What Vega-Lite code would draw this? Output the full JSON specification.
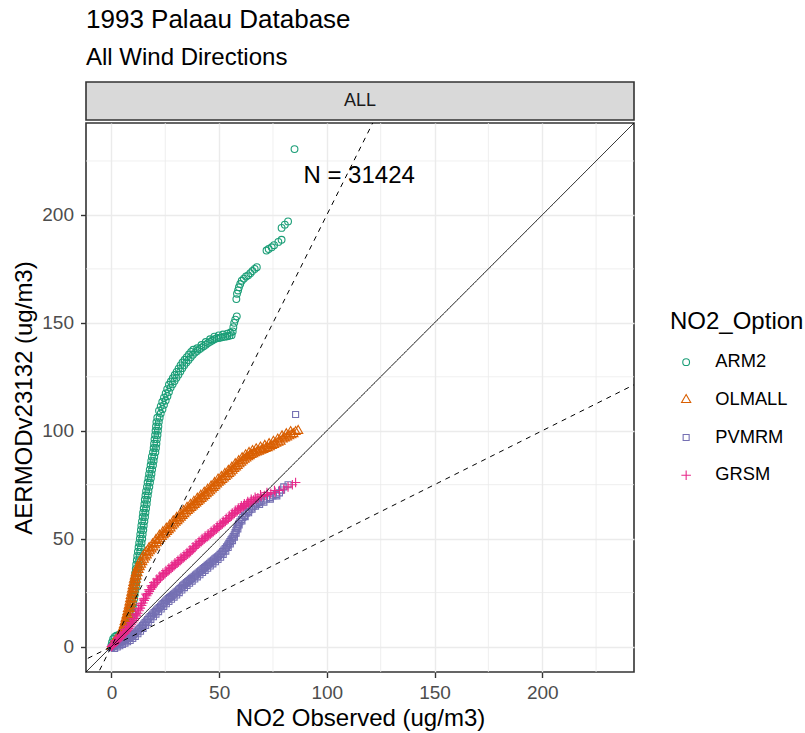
{
  "$schema": "https://vega.github.io/schema/vega-lite/v6.json",
  "background": "white",
  "padding": {"left": 11, "top": 7, "right": 0, "bottom": 0},
  "title": {"text": "1993 Palaau Database", "subtitle": "All Wind Directions", "anchor": "start", "frame": "group", "font": "Liberation Sans", "fontSize": 26, "fontWeight": "normal", "color": "#000000", "subtitleFont": "Liberation Sans", "subtitleFontSize": 24, "subtitleColor": "#000000", "subtitlePadding": 13, "offset": 11},
  "spacing": 0,
  "config": {
    "font": "Liberation Sans",
    "view": {"stroke": "#333333", "strokeWidth": 1.6},
    "axis": {"labelFont": "Liberation Sans", "labelFontSize": 19, "labelColor": "#4D4D4D", "titleFont": "Liberation Sans", "titleFontSize": 24, "titleFontWeight": "normal", "titleColor": "#000000", "tickColor": "#333333", "tickSize": 5.5, "tickWidth": 1.4, "domain": false, "gridColor": "#EBEBEB", "gridWidth": 1.4},
    "axisX": {"labelPadding": 6, "titlePadding": 4},
    "axisY": {"labelPadding": 7, "titlePadding": 5},
    "legend": {"titleFont": "Liberation Sans", "titleFontSize": 24, "titleFontWeight": "normal", "titleColor": "#000000", "labelFont": "Liberation Sans", "labelFontSize": 18.3, "labelColor": "#000000", "symbolSize": 46, "symbolStrokeWidth": 1.1, "rowPadding": 18.7, "titlePadding": 19, "labelOffset": 20, "symbolOffset": 7}
  },
  "datasets": {
    "qq": [
      {"Option":"ARM2","x":0,"y":0.5},{"Option":"ARM2","x":0.3,"y":2},{"Option":"ARM2","x":0.8,"y":3.5},{"Option":"ARM2","x":1.5,"y":4.5},{"Option":"ARM2","x":2.3,"y":5},{"Option":"ARM2","x":3.2,"y":5.3},{"Option":"ARM2","x":4,"y":5.7},{"Option":"ARM2","x":4.8,"y":6.2},{"Option":"ARM2","x":5.6,"y":7},{"Option":"ARM2","x":6.4,"y":8},{"Option":"ARM2","x":7.1,"y":9},{"Option":"ARM2","x":7.8,"y":10},{"Option":"ARM2","x":8.4,"y":11},
      {"Option":"ARM2","x":9,"y":12},{"Option":"ARM2","x":9.3,"y":14},{"Option":"ARM2","x":9.6,"y":16},{"Option":"ARM2","x":9.9,"y":18},{"Option":"ARM2","x":10.2,"y":20},{"Option":"ARM2","x":10.5,"y":22},{"Option":"ARM2","x":10.8,"y":24},{"Option":"ARM2","x":11.1,"y":26},{"Option":"ARM2","x":11.4,"y":28},
      {"Option":"ARM2","x":11.6,"y":30},{"Option":"ARM2","x":11.9,"y":32},{"Option":"ARM2","x":12.1,"y":34},{"Option":"ARM2","x":12.4,"y":36},{"Option":"ARM2","x":12.6,"y":38},{"Option":"ARM2","x":12.9,"y":40},{"Option":"ARM2","x":13.1,"y":42},{"Option":"ARM2","x":13.4,"y":44},
      {"Option":"ARM2","x":13.7,"y":46},{"Option":"ARM2","x":14,"y":48},{"Option":"ARM2","x":14.3,"y":50},{"Option":"ARM2","x":14.5,"y":52},{"Option":"ARM2","x":14.8,"y":54},{"Option":"ARM2","x":15,"y":56},{"Option":"ARM2","x":15.3,"y":58},{"Option":"ARM2","x":15.6,"y":60},{"Option":"ARM2","x":15.8,"y":62},{"Option":"ARM2","x":16.1,"y":64},{"Option":"ARM2","x":16.4,"y":66},{"Option":"ARM2","x":16.6,"y":68},{"Option":"ARM2","x":16.9,"y":70},
      {"Option":"ARM2","x":17.2,"y":72},{"Option":"ARM2","x":17.6,"y":74},{"Option":"ARM2","x":17.9,"y":76},{"Option":"ARM2","x":18.3,"y":78},{"Option":"ARM2","x":18.6,"y":80},{"Option":"ARM2","x":18.9,"y":82},{"Option":"ARM2","x":19.3,"y":84},{"Option":"ARM2","x":19.6,"y":86},{"Option":"ARM2","x":19.9,"y":88},{"Option":"ARM2","x":20.4,"y":90},
      {"Option":"ARM2","x":20.7,"y":92},{"Option":"ARM2","x":20.9,"y":94},{"Option":"ARM2","x":21.1,"y":96},{"Option":"ARM2","x":21.4,"y":98},{"Option":"ARM2","x":21.6,"y":100},{"Option":"ARM2","x":21.8,"y":102},{"Option":"ARM2","x":22,"y":104},{"Option":"ARM2","x":22.4,"y":106},
      {"Option":"ARM2","x":22.9,"y":108},{"Option":"ARM2","x":23.7,"y":110},{"Option":"ARM2","x":24.4,"y":112},{"Option":"ARM2","x":25.2,"y":114},{"Option":"ARM2","x":26,"y":116},{"Option":"ARM2","x":26.7,"y":118},{"Option":"ARM2","x":27.5,"y":120},{"Option":"ARM2","x":28.4,"y":121.5},
      {"Option":"ARM2","x":29.3,"y":123},{"Option":"ARM2","x":30.2,"y":124.5},{"Option":"ARM2","x":31.1,"y":126},{"Option":"ARM2","x":32,"y":127.5},{"Option":"ARM2","x":32.9,"y":129},
      {"Option":"ARM2","x":33.8,"y":130.3},{"Option":"ARM2","x":34.8,"y":131.6},{"Option":"ARM2","x":35.8,"y":132.8},{"Option":"ARM2","x":36.8,"y":134},{"Option":"ARM2","x":37.8,"y":135.2},{"Option":"ARM2","x":38.8,"y":136.2},
      {"Option":"ARM2","x":39.8,"y":137},{"Option":"ARM2","x":40.8,"y":137.8},{"Option":"ARM2","x":41.8,"y":138.5},{"Option":"ARM2","x":42.8,"y":139.2},{"Option":"ARM2","x":43.8,"y":139.9},{"Option":"ARM2","x":44.8,"y":140.6},{"Option":"ARM2","x":45.8,"y":141.2},{"Option":"ARM2","x":46.8,"y":141.8},{"Option":"ARM2","x":47.8,"y":142.4},
      {"Option":"ARM2","x":48.8,"y":142.8},{"Option":"ARM2","x":49.8,"y":143},{"Option":"ARM2","x":50.8,"y":143.2},{"Option":"ARM2","x":51.8,"y":143.4},{"Option":"ARM2","x":52.8,"y":143.6},{"Option":"ARM2","x":53.8,"y":143.8},{"Option":"ARM2","x":54.8,"y":144},{"Option":"ARM2","x":55.8,"y":144.3},
      {"Option":"ARM2","x":7.9,"y":12},{"Option":"ARM2","x":8.2,"y":14},{"Option":"ARM2","x":8.5,"y":16},{"Option":"ARM2","x":8.8,"y":18},{"Option":"ARM2","x":9.1,"y":20},{"Option":"ARM2","x":9.4,"y":22},{"Option":"ARM2","x":9.7,"y":24},{"Option":"ARM2","x":10,"y":26},{"Option":"ARM2","x":10.3,"y":28},{"Option":"ARM2","x":10.5,"y":30},{"Option":"ARM2","x":10.8,"y":32},{"Option":"ARM2","x":11,"y":34},{"Option":"ARM2","x":11.3,"y":36},{"Option":"ARM2","x":11.5,"y":38},{"Option":"ARM2","x":11.8,"y":40},{"Option":"ARM2","x":12,"y":42},{"Option":"ARM2","x":12.3,"y":44},{"Option":"ARM2","x":12.6,"y":46},{"Option":"ARM2","x":12.9,"y":48},{"Option":"ARM2","x":13.2,"y":50},{"Option":"ARM2","x":13.4,"y":52},{"Option":"ARM2","x":13.7,"y":54},{"Option":"ARM2","x":13.9,"y":56},{"Option":"ARM2","x":14.2,"y":58},{"Option":"ARM2","x":14.5,"y":60},{"Option":"ARM2","x":14.7,"y":62},{"Option":"ARM2","x":15,"y":64},{"Option":"ARM2","x":15.3,"y":66},{"Option":"ARM2","x":15.5,"y":68},{"Option":"ARM2","x":15.8,"y":70},{"Option":"ARM2","x":16.1,"y":72},{"Option":"ARM2","x":16.5,"y":74},{"Option":"ARM2","x":16.8,"y":76},{"Option":"ARM2","x":17.2,"y":78},{"Option":"ARM2","x":17.5,"y":80},{"Option":"ARM2","x":17.8,"y":82},{"Option":"ARM2","x":18.2,"y":84},{"Option":"ARM2","x":18.5,"y":86},{"Option":"ARM2","x":18.8,"y":88},{"Option":"ARM2","x":19.3,"y":90},{"Option":"ARM2","x":19.6,"y":92},{"Option":"ARM2","x":19.8,"y":94},{"Option":"ARM2","x":20,"y":96},{"Option":"ARM2","x":20.3,"y":98},{"Option":"ARM2","x":20.5,"y":100},{"Option":"ARM2","x":20.7,"y":102},{"Option":"ARM2","x":20.9,"y":104},{"Option":"ARM2","x":21.3,"y":106},
      {"Option":"ARM2","x":22.1,"y":109.3},{"Option":"ARM2","x":22.9,"y":111.3},{"Option":"ARM2","x":23.6,"y":113.3},{"Option":"ARM2","x":24.4,"y":115.3},{"Option":"ARM2","x":25.2,"y":117.3},{"Option":"ARM2","x":25.9,"y":119.3},{"Option":"ARM2","x":26.7,"y":121.3},{"Option":"ARM2","x":27.6,"y":122.8},{"Option":"ARM2","x":28.5,"y":124.3},{"Option":"ARM2","x":29.4,"y":125.8},{"Option":"ARM2","x":30.3,"y":127.3},{"Option":"ARM2","x":31.2,"y":128.8},{"Option":"ARM2","x":32.1,"y":130.3},{"Option":"ARM2","x":33,"y":131.6},{"Option":"ARM2","x":34,"y":132.9},{"Option":"ARM2","x":35,"y":134.1},{"Option":"ARM2","x":36,"y":135.3},{"Option":"ARM2","x":37,"y":136.5},{"Option":"ARM2","x":38,"y":137.5},
      {"Option":"ARM2","x":39.8,"y":138.2},{"Option":"ARM2","x":41.8,"y":139.7},{"Option":"ARM2","x":43.8,"y":141.1},{"Option":"ARM2","x":45.8,"y":142.4},{"Option":"ARM2","x":47.8,"y":143.6},{"Option":"ARM2","x":49.8,"y":144.2},{"Option":"ARM2","x":51.8,"y":144.6},{"Option":"ARM2","x":53.8,"y":145},{"Option":"ARM2","x":55.3,"y":145.5},
      {"Option":"ARM2","x":56.3,"y":146},{"Option":"ARM2","x":56.6,"y":148},{"Option":"ARM2","x":57,"y":150},{"Option":"ARM2","x":57.5,"y":151.5},{"Option":"ARM2","x":58.2,"y":153},
      {"Option":"ARM2","x":58,"y":161},{"Option":"ARM2","x":58.3,"y":163.5},{"Option":"ARM2","x":58.8,"y":165},{"Option":"ARM2","x":59.2,"y":166.5},{"Option":"ARM2","x":59.8,"y":168},{"Option":"ARM2","x":60.5,"y":169.5},{"Option":"ARM2","x":61.5,"y":170.5},{"Option":"ARM2","x":62.5,"y":171.5},{"Option":"ARM2","x":63.5,"y":172},{"Option":"ARM2","x":64.5,"y":173},{"Option":"ARM2","x":65.5,"y":174},{"Option":"ARM2","x":66.5,"y":175},{"Option":"ARM2","x":67.5,"y":175.8},
      {"Option":"ARM2","x":72,"y":183.5},{"Option":"ARM2","x":73,"y":184.2},{"Option":"ARM2","x":74.4,"y":185},{"Option":"ARM2","x":75.5,"y":186},{"Option":"ARM2","x":77.5,"y":187.5},{"Option":"ARM2","x":79,"y":188.5},{"Option":"ARM2","x":79,"y":194},{"Option":"ARM2","x":80.5,"y":195.5},{"Option":"ARM2","x":82,"y":197},{"Option":"ARM2","x":85,"y":230.5},

      {"Option":"OLMALL","x":0,"y":0},{"Option":"OLMALL","x":0.5,"y":0.8},{"Option":"OLMALL","x":1,"y":1.5},{"Option":"OLMALL","x":1.5,"y":2.2},{"Option":"OLMALL","x":2,"y":2.8},{"Option":"OLMALL","x":2.7,"y":3.3},{"Option":"OLMALL","x":3.4,"y":3.8},{"Option":"OLMALL","x":4.1,"y":4.4},{"Option":"OLMALL","x":4.6,"y":5},
      {"Option":"OLMALL","x":5,"y":5.5},{"Option":"OLMALL","x":5.6,"y":7},{"Option":"OLMALL","x":6.1,"y":8.5},{"Option":"OLMALL","x":6.6,"y":10},{"Option":"OLMALL","x":7,"y":11.5},{"Option":"OLMALL","x":7.4,"y":13},{"Option":"OLMALL","x":7.8,"y":14.5},{"Option":"OLMALL","x":8.2,"y":16},{"Option":"OLMALL","x":8.5,"y":17.5},{"Option":"OLMALL","x":8.9,"y":19},{"Option":"OLMALL","x":9.2,"y":20.5},{"Option":"OLMALL","x":9.5,"y":22},{"Option":"OLMALL","x":9.8,"y":23.5},{"Option":"OLMALL","x":10.1,"y":25},{"Option":"OLMALL","x":10.4,"y":26.5},{"Option":"OLMALL","x":10.7,"y":28},{"Option":"OLMALL","x":11,"y":29.5},{"Option":"OLMALL","x":11.3,"y":31},{"Option":"OLMALL","x":11.7,"y":32.5},{"Option":"OLMALL","x":12.1,"y":34},{"Option":"OLMALL","x":12.6,"y":35.5},{"Option":"OLMALL","x":13.1,"y":36.8},{"Option":"OLMALL","x":13.7,"y":38},{"Option":"OLMALL","x":14.3,"y":39.2},{"Option":"OLMALL","x":15,"y":40.3},{"Option":"OLMALL","x":15.7,"y":41.3},{"Option":"OLMALL","x":16.4,"y":42.3},{"Option":"OLMALL","x":17.1,"y":43.3},{"Option":"OLMALL","x":17.8,"y":44.2},{"Option":"OLMALL","x":18.6,"y":45.1},{"Option":"OLMALL","x":19.4,"y":46},{"Option":"OLMALL","x":20.2,"y":47},{"Option":"OLMALL","x":21,"y":48},{"Option":"OLMALL","x":21.8,"y":49},{"Option":"OLMALL","x":22.6,"y":50},{"Option":"OLMALL","x":23.4,"y":50.8},{"Option":"OLMALL","x":24.2,"y":51.6},{"Option":"OLMALL","x":25,"y":52.4},{"Option":"OLMALL","x":25.8,"y":53.2},{"Option":"OLMALL","x":26.6,"y":54},{"Option":"OLMALL","x":27.4,"y":54.8},{"Option":"OLMALL","x":28.2,"y":55.8},{"Option":"OLMALL","x":29,"y":56.6},{"Option":"OLMALL","x":29.8,"y":57.4},{"Option":"OLMALL","x":30.6,"y":58.2},{"Option":"OLMALL","x":31.4,"y":59},{"Option":"OLMALL","x":32.2,"y":59.8},{"Option":"OLMALL","x":33,"y":60.6},{"Option":"OLMALL","x":33.8,"y":61.4},{"Option":"OLMALL","x":34.6,"y":62.2},{"Option":"OLMALL","x":35.4,"y":62.9},{"Option":"OLMALL","x":36.2,"y":63.6},{"Option":"OLMALL","x":37,"y":64.3},{"Option":"OLMALL","x":37.8,"y":65},{"Option":"OLMALL","x":38.6,"y":65.7},{"Option":"OLMALL","x":39.4,"y":66.4},{"Option":"OLMALL","x":40.2,"y":67.1},{"Option":"OLMALL","x":41,"y":67.8},{"Option":"OLMALL","x":41.8,"y":68.5},{"Option":"OLMALL","x":42.6,"y":69.2},{"Option":"OLMALL","x":43.4,"y":69.9},{"Option":"OLMALL","x":44.2,"y":70.6},{"Option":"OLMALL","x":45,"y":71.3},{"Option":"OLMALL","x":45.8,"y":72},{"Option":"OLMALL","x":46.6,"y":72.8},{"Option":"OLMALL","x":47.4,"y":73.6},{"Option":"OLMALL","x":48.2,"y":74.4},{"Option":"OLMALL","x":49,"y":75.2},{"Option":"OLMALL","x":49.8,"y":76},{"Option":"OLMALL","x":50.6,"y":76.6},{"Option":"OLMALL","x":51.4,"y":77.2},{"Option":"OLMALL","x":52.2,"y":77.9},{"Option":"OLMALL","x":53,"y":78.6},{"Option":"OLMALL","x":53.8,"y":79.3},{"Option":"OLMALL","x":54.6,"y":80},{"Option":"OLMALL","x":55.4,"y":80.7},{"Option":"OLMALL","x":56.2,"y":81.5},{"Option":"OLMALL","x":57,"y":82.3},{"Option":"OLMALL","x":57.8,"y":83.1},{"Option":"OLMALL","x":58.6,"y":83.8},{"Option":"OLMALL","x":59.4,"y":84.5},{"Option":"OLMALL","x":60.2,"y":85.2},{"Option":"OLMALL","x":61,"y":85.9},{"Option":"OLMALL","x":61.8,"y":86.6},{"Option":"OLMALL","x":62.6,"y":87.2},{"Option":"OLMALL","x":63.4,"y":87.8},{"Option":"OLMALL","x":64.2,"y":88.3},{"Option":"OLMALL","x":65,"y":88.8},{"Option":"OLMALL","x":65.8,"y":89.2},{"Option":"OLMALL","x":66.6,"y":89.6},{"Option":"OLMALL","x":67.5,"y":90},{"Option":"OLMALL","x":68.5,"y":90.4},{"Option":"OLMALL","x":69.5,"y":90.8},{"Option":"OLMALL","x":70.5,"y":91.2},{"Option":"OLMALL","x":71.5,"y":91.6},{"Option":"OLMALL","x":72.5,"y":92},{"Option":"OLMALL","x":73.5,"y":92.4},{"Option":"OLMALL","x":74.5,"y":93},{"Option":"OLMALL","x":75.5,"y":93.5},{"Option":"OLMALL","x":76.5,"y":94},{"Option":"OLMALL","x":77.5,"y":94.5},{"Option":"OLMALL","x":78.5,"y":95},{"Option":"OLMALL","x":79.5,"y":96},{"Option":"OLMALL","x":80.5,"y":96.5},{"Option":"OLMALL","x":81.5,"y":97},{"Option":"OLMALL","x":82.5,"y":97.5},{"Option":"OLMALL","x":83.5,"y":98},{"Option":"OLMALL","x":84.5,"y":98.5},{"Option":"OLMALL","x":85.5,"y":99.5},{"Option":"OLMALL","x":86.7,"y":100},
      {"Option":"OLMALL","x":4.6,"y":7},{"Option":"OLMALL","x":5.3,"y":8.5},{"Option":"OLMALL","x":5.8,"y":10},{"Option":"OLMALL","x":6.2,"y":11.5},{"Option":"OLMALL","x":6.6,"y":13},{"Option":"OLMALL","x":7,"y":14.5},{"Option":"OLMALL","x":7.4,"y":16},{"Option":"OLMALL","x":7.7,"y":17.5},{"Option":"OLMALL","x":8.1,"y":19},{"Option":"OLMALL","x":8.4,"y":20.5},{"Option":"OLMALL","x":8.7,"y":22},{"Option":"OLMALL","x":9,"y":23.5},{"Option":"OLMALL","x":9.3,"y":25},{"Option":"OLMALL","x":9.6,"y":26.5},{"Option":"OLMALL","x":9.9,"y":28},{"Option":"OLMALL","x":10.2,"y":29.5},{"Option":"OLMALL","x":10.5,"y":31},{"Option":"OLMALL","x":10.9,"y":32.5},{"Option":"OLMALL","x":11.3,"y":34},{"Option":"OLMALL","x":11.8,"y":35.5},
      {"Option":"OLMALL","x":12.3,"y":37},{"Option":"OLMALL","x":13.4,"y":39.5},{"Option":"OLMALL","x":14.7,"y":41.8},{"Option":"OLMALL","x":16.1,"y":43.8},{"Option":"OLMALL","x":17.5,"y":45.7},{"Option":"OLMALL","x":19.1,"y":47.5},{"Option":"OLMALL","x":20.7,"y":49.5},{"Option":"OLMALL","x":22.3,"y":51.5},{"Option":"OLMALL","x":23.9,"y":53.1},{"Option":"OLMALL","x":25.5,"y":54.7},{"Option":"OLMALL","x":27.1,"y":56.3},{"Option":"OLMALL","x":28.7,"y":58.1},{"Option":"OLMALL","x":30.3,"y":59.7},{"Option":"OLMALL","x":31.9,"y":61.3},{"Option":"OLMALL","x":33.5,"y":62.9},{"Option":"OLMALL","x":35.1,"y":64.4},{"Option":"OLMALL","x":36.7,"y":65.8},{"Option":"OLMALL","x":38.3,"y":67.2},{"Option":"OLMALL","x":39.9,"y":68.6},{"Option":"OLMALL","x":41.5,"y":70},{"Option":"OLMALL","x":43.1,"y":71.4},{"Option":"OLMALL","x":44.7,"y":72.8},{"Option":"OLMALL","x":46.3,"y":74.3},{"Option":"OLMALL","x":47.9,"y":75.9},{"Option":"OLMALL","x":49.5,"y":77.5},{"Option":"OLMALL","x":51.1,"y":78.7},{"Option":"OLMALL","x":52.7,"y":80.1},{"Option":"OLMALL","x":54.3,"y":81.5},{"Option":"OLMALL","x":55.9,"y":83},{"Option":"OLMALL","x":57.5,"y":84.6},{"Option":"OLMALL","x":59.1,"y":86},{"Option":"OLMALL","x":60.7,"y":87.4},{"Option":"OLMALL","x":62.3,"y":88.7},{"Option":"OLMALL","x":63.9,"y":89.8},{"Option":"OLMALL","x":65.5,"y":90.7},{"Option":"OLMALL","x":67.2,"y":91.5},{"Option":"OLMALL","x":69.2,"y":92.3},{"Option":"OLMALL","x":71.2,"y":93.1},{"Option":"OLMALL","x":73.2,"y":93.9},{"Option":"OLMALL","x":75.2,"y":95},{"Option":"OLMALL","x":77.2,"y":96},{"Option":"OLMALL","x":79.2,"y":97.5},{"Option":"OLMALL","x":81.2,"y":98.5},{"Option":"OLMALL","x":83.2,"y":99.5},

      {"Option":"PVMRM","x":0,"y":-0.5},{"Option":"PVMRM","x":0.6,"y":0},{"Option":"PVMRM","x":1.2,"y":0.4},{"Option":"PVMRM","x":1.8,"y":0.8},{"Option":"PVMRM","x":2.4,"y":1.1},{"Option":"PVMRM","x":3,"y":1.4},{"Option":"PVMRM","x":3.6,"y":1.7},{"Option":"PVMRM","x":4.2,"y":2},{"Option":"PVMRM","x":4.8,"y":2.3},{"Option":"PVMRM","x":5.4,"y":2.6},{"Option":"PVMRM","x":6,"y":2.9},{"Option":"PVMRM","x":6.6,"y":3.2},{"Option":"PVMRM","x":7.2,"y":3.5},{"Option":"PVMRM","x":7.8,"y":3.8},{"Option":"PVMRM","x":8.4,"y":4.1},{"Option":"PVMRM","x":9,"y":4.5},{"Option":"PVMRM","x":9.6,"y":5},{"Option":"PVMRM","x":10.2,"y":5.5},{"Option":"PVMRM","x":10.8,"y":6},{"Option":"PVMRM","x":11.4,"y":6.6},{"Option":"PVMRM","x":12,"y":7.2},{"Option":"PVMRM","x":12.6,"y":7.8},{"Option":"PVMRM","x":13.2,"y":8.4},{"Option":"PVMRM","x":13.8,"y":9},{"Option":"PVMRM","x":14.4,"y":9.7},{"Option":"PVMRM","x":15,"y":10.4},{"Option":"PVMRM","x":15.6,"y":11.1},{"Option":"PVMRM","x":16.2,"y":11.8},{"Option":"PVMRM","x":16.8,"y":12.5},{"Option":"PVMRM","x":17.4,"y":13.2},{"Option":"PVMRM","x":18,"y":13.9},{"Option":"PVMRM","x":18.6,"y":14.5},{"Option":"PVMRM","x":19.2,"y":15.1},{"Option":"PVMRM","x":19.8,"y":15.7},{"Option":"PVMRM","x":20.4,"y":16.3},{"Option":"PVMRM","x":21,"y":16.9},{"Option":"PVMRM","x":21.6,"y":17.5},{"Option":"PVMRM","x":22.2,"y":18.1},{"Option":"PVMRM","x":22.8,"y":18.7},{"Option":"PVMRM","x":23.4,"y":19.3},{"Option":"PVMRM","x":24,"y":19.9},{"Option":"PVMRM","x":24.6,"y":20.5},{"Option":"PVMRM","x":25.2,"y":21.1},{"Option":"PVMRM","x":25.8,"y":21.7},{"Option":"PVMRM","x":26.4,"y":22.2},{"Option":"PVMRM","x":27,"y":22.7},{"Option":"PVMRM","x":27.6,"y":23.2},{"Option":"PVMRM","x":28.2,"y":23.7},{"Option":"PVMRM","x":28.8,"y":24.2},{"Option":"PVMRM","x":29.4,"y":24.7},{"Option":"PVMRM","x":30,"y":25.2},{"Option":"PVMRM","x":30.6,"y":25.7},{"Option":"PVMRM","x":31.2,"y":26.3},{"Option":"PVMRM","x":31.8,"y":26.9},{"Option":"PVMRM","x":32.4,"y":27.5},{"Option":"PVMRM","x":33,"y":28.1},{"Option":"PVMRM","x":33.6,"y":28.6},{"Option":"PVMRM","x":34.2,"y":29.1},{"Option":"PVMRM","x":34.8,"y":29.6},{"Option":"PVMRM","x":35.4,"y":30.1},{"Option":"PVMRM","x":36,"y":30.6},{"Option":"PVMRM","x":36.6,"y":31.1},{"Option":"PVMRM","x":37.2,"y":31.6},{"Option":"PVMRM","x":37.8,"y":32.1},{"Option":"PVMRM","x":38.4,"y":32.6},{"Option":"PVMRM","x":39,"y":33.1},{"Option":"PVMRM","x":39.6,"y":33.6},{"Option":"PVMRM","x":40.2,"y":34.1},{"Option":"PVMRM","x":40.8,"y":34.6},{"Option":"PVMRM","x":41.4,"y":35.1},{"Option":"PVMRM","x":42,"y":35.6},{"Option":"PVMRM","x":42.6,"y":36.1},{"Option":"PVMRM","x":43.2,"y":36.6},{"Option":"PVMRM","x":43.8,"y":37.1},{"Option":"PVMRM","x":44.4,"y":37.6},{"Option":"PVMRM","x":45,"y":38.1},{"Option":"PVMRM","x":45.6,"y":38.6},{"Option":"PVMRM","x":46.2,"y":39.1},{"Option":"PVMRM","x":46.8,"y":39.6},{"Option":"PVMRM","x":47.4,"y":40.1},{"Option":"PVMRM","x":48,"y":40.6},{"Option":"PVMRM","x":48.6,"y":41.1},{"Option":"PVMRM","x":49.2,"y":41.6},{"Option":"PVMRM","x":49.8,"y":42.1},{"Option":"PVMRM","x":50.4,"y":42.7},{"Option":"PVMRM","x":51,"y":43.3},{"Option":"PVMRM","x":51.6,"y":44},{"Option":"PVMRM","x":52.2,"y":44.7},{"Option":"PVMRM","x":52.8,"y":45.4},{"Option":"PVMRM","x":53.4,"y":46.2},{"Option":"PVMRM","x":54,"y":47},{"Option":"PVMRM","x":54.5,"y":47.8},{"Option":"PVMRM","x":55,"y":48.6},{"Option":"PVMRM","x":55.5,"y":49.4},{"Option":"PVMRM","x":56,"y":50.2},{"Option":"PVMRM","x":56.5,"y":51},{"Option":"PVMRM","x":57,"y":51.8},{"Option":"PVMRM","x":57.4,"y":52.8},{"Option":"PVMRM","x":57.8,"y":53.8},{"Option":"PVMRM","x":58.2,"y":54.8},{"Option":"PVMRM","x":58.6,"y":55.8},{"Option":"PVMRM","x":59,"y":56.8},{"Option":"PVMRM","x":59.6,"y":57.8},{"Option":"PVMRM","x":60.3,"y":58.8},{"Option":"PVMRM","x":61,"y":59.8},{"Option":"PVMRM","x":61.8,"y":60.8},{"Option":"PVMRM","x":62.6,"y":61.8},{"Option":"PVMRM","x":63.4,"y":62.6},{"Option":"PVMRM","x":64.2,"y":63.4},{"Option":"PVMRM","x":65,"y":64.2},{"Option":"PVMRM","x":65.8,"y":65},{"Option":"PVMRM","x":66.6,"y":65.6},{"Option":"PVMRM","x":67.5,"y":66.2},{"Option":"PVMRM","x":68.5,"y":66.8},{"Option":"PVMRM","x":69.5,"y":67.3},{"Option":"PVMRM","x":70.5,"y":67.8},{"Option":"PVMRM","x":72,"y":68.4},{"Option":"PVMRM","x":73.5,"y":69},{"Option":"PVMRM","x":75,"y":69.8},{"Option":"PVMRM","x":76.5,"y":70.5},{"Option":"PVMRM","x":78,"y":71.2},{"Option":"PVMRM","x":79,"y":72.5},{"Option":"PVMRM","x":80,"y":74},{"Option":"PVMRM","x":82,"y":75},{"Option":"PVMRM","x":85.5,"y":107.5},
      {"Option":"PVMRM","x":1.5,"y":-0.9},{"Option":"PVMRM","x":2.7,"y":-0.2},{"Option":"PVMRM","x":3.9,"y":0.4},{"Option":"PVMRM","x":5.1,"y":1},{"Option":"PVMRM","x":6.3,"y":1.6},{"Option":"PVMRM","x":7.5,"y":2.2},{"Option":"PVMRM","x":8.7,"y":2.8},{"Option":"PVMRM","x":9.9,"y":3.7},{"Option":"PVMRM","x":11.1,"y":4.7},{"Option":"PVMRM","x":12.3,"y":5.9},{"Option":"PVMRM","x":13.5,"y":7.1},{"Option":"PVMRM","x":14.7,"y":8.4},{"Option":"PVMRM","x":15.9,"y":9.8},{"Option":"PVMRM","x":17.1,"y":11.2},{"Option":"PVMRM","x":18.3,"y":12.6},{"Option":"PVMRM","x":19.5,"y":13.8},{"Option":"PVMRM","x":20.7,"y":15},{"Option":"PVMRM","x":21.9,"y":16.2},{"Option":"PVMRM","x":23.1,"y":17.4},{"Option":"PVMRM","x":24.3,"y":18.6},{"Option":"PVMRM","x":25.5,"y":19.8},{"Option":"PVMRM","x":26.7,"y":20.9},{"Option":"PVMRM","x":27.9,"y":21.9},{"Option":"PVMRM","x":29.1,"y":22.9},{"Option":"PVMRM","x":30.3,"y":23.9},{"Option":"PVMRM","x":31.5,"y":25},{"Option":"PVMRM","x":32.7,"y":26.2},{"Option":"PVMRM","x":33.9,"y":27.3},{"Option":"PVMRM","x":35.1,"y":28.3},{"Option":"PVMRM","x":36.3,"y":29.3},{"Option":"PVMRM","x":37.5,"y":30.3},{"Option":"PVMRM","x":38.7,"y":31.3},{"Option":"PVMRM","x":39.9,"y":32.3},{"Option":"PVMRM","x":41.1,"y":33.3},{"Option":"PVMRM","x":42.3,"y":34.3},{"Option":"PVMRM","x":43.5,"y":35.3},{"Option":"PVMRM","x":44.7,"y":36.3},{"Option":"PVMRM","x":45.9,"y":37.3},{"Option":"PVMRM","x":47.1,"y":38.3},{"Option":"PVMRM","x":48.3,"y":39.3},{"Option":"PVMRM","x":49.5,"y":40.3},{"Option":"PVMRM","x":50.7,"y":41.4},{"Option":"PVMRM","x":51.9,"y":42.7},{"Option":"PVMRM","x":53.1,"y":44.2},{"Option":"PVMRM","x":54.2,"y":45.9},{"Option":"PVMRM","x":55.2,"y":47.5},{"Option":"PVMRM","x":56.2,"y":49.1},{"Option":"PVMRM","x":57.1,"y":50.7},{"Option":"PVMRM","x":57.9,"y":52.5},{"Option":"PVMRM","x":58.7,"y":54.5},{"Option":"PVMRM","x":59.3,"y":56.3},{"Option":"PVMRM","x":60.6,"y":58.2},{"Option":"PVMRM","x":62.1,"y":60.2},{"Option":"PVMRM","x":63.7,"y":62},{"Option":"PVMRM","x":65.3,"y":63.6},{"Option":"PVMRM","x":66.9,"y":65},{"Option":"PVMRM","x":68.8,"y":65.9},{"Option":"PVMRM","x":70.8,"y":66.9},{"Option":"PVMRM","x":73.8,"y":68.3},{"Option":"PVMRM","x":76.8,"y":69.8},

      {"Option":"GRSM","x":0,"y":0},{"Option":"GRSM","x":0.5,"y":0.5},{"Option":"GRSM","x":1,"y":1},{"Option":"GRSM","x":1.5,"y":1.5},{"Option":"GRSM","x":2,"y":2},{"Option":"GRSM","x":2.6,"y":2.6},{"Option":"GRSM","x":3.2,"y":3.2},{"Option":"GRSM","x":3.8,"y":3.8},{"Option":"GRSM","x":4.4,"y":4.4},{"Option":"GRSM","x":5,"y":5},{"Option":"GRSM","x":5.6,"y":5.6},{"Option":"GRSM","x":6.2,"y":6.2},{"Option":"GRSM","x":6.8,"y":6.9},{"Option":"GRSM","x":7.4,"y":7.6},{"Option":"GRSM","x":8,"y":8.3},{"Option":"GRSM","x":8.6,"y":9.2},{"Option":"GRSM","x":9.2,"y":10.1},{"Option":"GRSM","x":9.8,"y":11},{"Option":"GRSM","x":10.4,"y":12},{"Option":"GRSM","x":11,"y":13},{"Option":"GRSM","x":11.6,"y":14.2},{"Option":"GRSM","x":12.2,"y":15.4},{"Option":"GRSM","x":12.8,"y":16.6},{"Option":"GRSM","x":13.4,"y":17.8},{"Option":"GRSM","x":14,"y":19},{"Option":"GRSM","x":14.6,"y":20.2},{"Option":"GRSM","x":15.2,"y":21.3},{"Option":"GRSM","x":15.8,"y":22.4},{"Option":"GRSM","x":16.4,"y":23.5},{"Option":"GRSM","x":17,"y":24.5},{"Option":"GRSM","x":17.6,"y":25.5},{"Option":"GRSM","x":18.2,"y":26.4},{"Option":"GRSM","x":18.8,"y":27.3},{"Option":"GRSM","x":19.4,"y":28.1},{"Option":"GRSM","x":20,"y":28.9},{"Option":"GRSM","x":20.7,"y":29.7},{"Option":"GRSM","x":21.4,"y":30.5},{"Option":"GRSM","x":22.1,"y":31.2},{"Option":"GRSM","x":22.8,"y":31.9},{"Option":"GRSM","x":23.5,"y":32.6},{"Option":"GRSM","x":24.2,"y":33.2},{"Option":"GRSM","x":24.9,"y":33.8},{"Option":"GRSM","x":25.6,"y":34.4},{"Option":"GRSM","x":26.3,"y":35},{"Option":"GRSM","x":27,"y":35.6},{"Option":"GRSM","x":27.7,"y":36.2},{"Option":"GRSM","x":28.4,"y":36.8},{"Option":"GRSM","x":29.1,"y":37.4},{"Option":"GRSM","x":29.8,"y":38},{"Option":"GRSM","x":30.5,"y":38.6},{"Option":"GRSM","x":31.2,"y":39.2},{"Option":"GRSM","x":31.9,"y":39.8},{"Option":"GRSM","x":32.6,"y":40.4},{"Option":"GRSM","x":33.3,"y":41},{"Option":"GRSM","x":34,"y":41.6},{"Option":"GRSM","x":34.7,"y":42.2},{"Option":"GRSM","x":35.4,"y":42.8},{"Option":"GRSM","x":36.1,"y":43.4},{"Option":"GRSM","x":36.8,"y":44},{"Option":"GRSM","x":37.5,"y":44.7},{"Option":"GRSM","x":38.2,"y":45.4},{"Option":"GRSM","x":38.9,"y":46.1},{"Option":"GRSM","x":39.6,"y":46.8},{"Option":"GRSM","x":40.3,"y":47.4},{"Option":"GRSM","x":41,"y":48},{"Option":"GRSM","x":41.7,"y":48.6},{"Option":"GRSM","x":42.4,"y":49.2},{"Option":"GRSM","x":43.1,"y":49.8},{"Option":"GRSM","x":43.8,"y":50.4},{"Option":"GRSM","x":44.5,"y":50.9},{"Option":"GRSM","x":45.2,"y":51.4},{"Option":"GRSM","x":45.9,"y":52},{"Option":"GRSM","x":46.6,"y":52.6},{"Option":"GRSM","x":47.3,"y":53.2},{"Option":"GRSM","x":48,"y":53.8},{"Option":"GRSM","x":48.7,"y":54.4},{"Option":"GRSM","x":49.4,"y":55},{"Option":"GRSM","x":50.1,"y":55.6},{"Option":"GRSM","x":50.8,"y":56.2},{"Option":"GRSM","x":51.5,"y":56.8},{"Option":"GRSM","x":52.2,"y":57.4},{"Option":"GRSM","x":52.9,"y":58},{"Option":"GRSM","x":53.6,"y":58.6},{"Option":"GRSM","x":54.3,"y":59.2},{"Option":"GRSM","x":55,"y":59.9},{"Option":"GRSM","x":55.7,"y":60.5},{"Option":"GRSM","x":56.4,"y":61.1},{"Option":"GRSM","x":57.1,"y":61.7},{"Option":"GRSM","x":57.8,"y":62.3},{"Option":"GRSM","x":58.5,"y":62.9},{"Option":"GRSM","x":59.2,"y":63.4},{"Option":"GRSM","x":59.9,"y":63.9},{"Option":"GRSM","x":60.6,"y":64.4},{"Option":"GRSM","x":61.3,"y":64.9},{"Option":"GRSM","x":62,"y":65.4},{"Option":"GRSM","x":62.8,"y":65.9},{"Option":"GRSM","x":63.6,"y":66.4},{"Option":"GRSM","x":64.4,"y":66.9},{"Option":"GRSM","x":65.2,"y":67.4},{"Option":"GRSM","x":66,"y":67.9},{"Option":"GRSM","x":67,"y":68.4},{"Option":"GRSM","x":68,"y":68.9},{"Option":"GRSM","x":69.5,"y":69.5},{"Option":"GRSM","x":71,"y":70},{"Option":"GRSM","x":72.5,"y":70.5},{"Option":"GRSM","x":74,"y":71},{"Option":"GRSM","x":76,"y":71.5},{"Option":"GRSM","x":78,"y":72.3},{"Option":"GRSM","x":80,"y":73},{"Option":"GRSM","x":82,"y":74},{"Option":"GRSM","x":84,"y":75},{"Option":"GRSM","x":85.5,"y":76},
      {"Option":"GRSM","x":1.7,"y":2.8},{"Option":"GRSM","x":2.9,"y":4.2},{"Option":"GRSM","x":4.1,"y":5.4},{"Option":"GRSM","x":5.3,"y":6.6},{"Option":"GRSM","x":6.5,"y":7.9},{"Option":"GRSM","x":7.7,"y":9.3},{"Option":"GRSM","x":8.9,"y":11},{"Option":"GRSM","x":10.1,"y":12.9},{"Option":"GRSM","x":11.3,"y":15},{"Option":"GRSM","x":12.5,"y":17.4},{"Option":"GRSM","x":13.7,"y":19.8},{"Option":"GRSM","x":14.9,"y":22.1},{"Option":"GRSM","x":16.1,"y":24.3},{"Option":"GRSM","x":17.3,"y":26.3},{"Option":"GRSM","x":18.5,"y":28.1},{"Option":"GRSM","x":19.7,"y":29.7},{"Option":"GRSM","x":21.1,"y":31.3},{"Option":"GRSM","x":22.5,"y":32.7},{"Option":"GRSM","x":23.9,"y":34},{"Option":"GRSM","x":25.3,"y":35.2},{"Option":"GRSM","x":26.7,"y":36.4},{"Option":"GRSM","x":28.1,"y":37.6},{"Option":"GRSM","x":29.5,"y":38.8},{"Option":"GRSM","x":30.9,"y":40},{"Option":"GRSM","x":32.3,"y":41.2},{"Option":"GRSM","x":33.7,"y":42.4},{"Option":"GRSM","x":35.1,"y":43.6},{"Option":"GRSM","x":36.5,"y":44.8},{"Option":"GRSM","x":37.9,"y":46.2},{"Option":"GRSM","x":39.3,"y":47.6},{"Option":"GRSM","x":40.7,"y":48.8},{"Option":"GRSM","x":42.1,"y":50},{"Option":"GRSM","x":43.5,"y":51.2},{"Option":"GRSM","x":44.9,"y":52.2},{"Option":"GRSM","x":46.3,"y":53.4},{"Option":"GRSM","x":47.7,"y":54.6},{"Option":"GRSM","x":49.1,"y":55.8},{"Option":"GRSM","x":50.5,"y":57},{"Option":"GRSM","x":51.9,"y":58.2},{"Option":"GRSM","x":53.3,"y":59.4},{"Option":"GRSM","x":54.7,"y":60.7},{"Option":"GRSM","x":56.1,"y":61.9},{"Option":"GRSM","x":57.5,"y":63.1},{"Option":"GRSM","x":58.9,"y":64.2},{"Option":"GRSM","x":60.3,"y":65.2},{"Option":"GRSM","x":61.7,"y":66.2},{"Option":"GRSM","x":63.3,"y":67.2},{"Option":"GRSM","x":64.9,"y":68.2},{"Option":"GRSM","x":66.7,"y":69.2},{"Option":"GRSM","x":69.2,"y":70.3},{"Option":"GRSM","x":72.2,"y":71.3},{"Option":"GRSM","x":75.7,"y":72.3}
    ],
    "refs": [
      {"ref":"1:1","x":-20,"y":-20},{"ref":"1:1","x":260,"y":260},
      {"ref":"2:1","x":-20,"y":-40},{"ref":"2:1","x":130,"y":260},
      {"ref":"1:2","x":-40,"y":-20},{"ref":"1:2","x":260,"y":130}
    ]
  },
  "vconcat": [
    {
      "width": 548,
      "height": 38,
      "data": {"values": [{"strip": "ALL"}]},
      "view": {"fill": "#D9D9D9", "stroke": "#333333", "strokeWidth": 1.6},
      "mark": {"type": "text", "fontSize": 18, "color": "#1A1A1A", "font": "Liberation Sans"},
      "encoding": {"text": {"field": "strip"}}
    },
    {
      "width": 548,
      "height": 549,
      "layer": [
        {
          "data": {"values": [{"x":25},{"x":75},{"x":125},{"x":175},{"x":225}]},
          "mark": {"type": "rule", "color": "#EBEBEB", "strokeWidth": 0.8},
          "encoding": {"x": {"field": "x", "type": "quantitative", "title": "NO2 Observed (ug/m3)", "scale": {"domain": [-11.8, 242.6], "nice": false, "zero": false}, "axis": {"values": [0,50,100,150,200], "grid": true}}}
        },
        {
          "data": {"values": [{"y":25},{"y":75},{"y":125},{"y":175},{"y":225}]},
          "mark": {"type": "rule", "color": "#EBEBEB", "strokeWidth": 0.8},
          "encoding": {"y": {"field": "y", "type": "quantitative", "title": "AERMODv23132 (ug/m3)", "scale": {"domain": [-11.8, 242.6], "nice": false, "zero": false}, "axis": {"values": [0,50,100,150,200], "grid": true}}}
        },
        {
          "data": {"name": "qq"},
          "mark": {"type": "point", "filled": false, "size": 46, "strokeWidth": 1.1, "opacity": 1},
          "encoding": {
            "x": {"field": "x", "type": "quantitative", "title": "NO2 Observed (ug/m3)"},
            "y": {"field": "y", "type": "quantitative", "title": "AERMODv23132 (ug/m3)"},
            "color": {"field": "Option", "type": "nominal", "title": "NO2_Option", "scale": {"domain": ["ARM2","OLMALL","PVMRM","GRSM"], "range": ["#1B9E77","#D95F02","#7570B3","#E7298A"]}, "legend": {"orient": "none", "legendX": 584, "legendY": 228}},
            "shape": {"field": "Option", "type": "nominal", "title": "NO2_Option", "scale": {"domain": ["ARM2","OLMALL","PVMRM","GRSM"], "range": ["circle","M0,-1.555L1.347,0.778L-1.347,0.778Z","M-0.886,-0.886L0.886,-0.886L0.886,0.886L-0.886,0.886Z","M-1.414,0L1.414,0M0,-1.414L0,1.414"]}, "legend": {"orient": "none", "legendX": 584, "legendY": 228}}
          }
        },
        {
          "data": {"name": "refs"},
          "mark": {"type": "line", "color": "#000000", "strokeWidth": 1, "clip": true},
          "encoding": {
            "x": {"field": "x", "type": "quantitative", "title": "NO2 Observed (ug/m3)"},
            "y": {"field": "y", "type": "quantitative", "title": "AERMODv23132 (ug/m3)"},
            "detail": {"field": "ref"},
            "strokeDash": {"field": "ref", "type": "nominal", "scale": {"domain": ["1:1","2:1","1:2"], "range": [[1,0],[5,5],[5,5]]}, "legend": null}
          }
        },
        {
          "data": {"values": [{"label": "N = 31424", "x": 115, "y": 218}]},
          "mark": {"type": "text", "fontSize": 24, "color": "#000000", "font": "Liberation Sans"},
          "encoding": {
            "x": {"field": "x", "type": "quantitative", "title": "NO2 Observed (ug/m3)"},
            "y": {"field": "y", "type": "quantitative", "title": "AERMODv23132 (ug/m3)"},
            "text": {"field": "label"}
          }
        }
      ]
    }
  ]
}
